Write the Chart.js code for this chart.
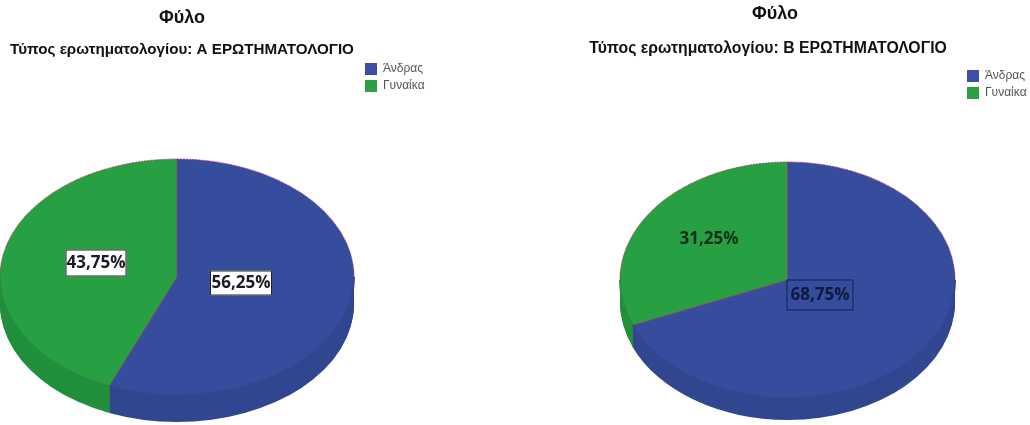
<!DOCTYPE html>
<html>
<head>
<meta charset="utf-8">
<script src="https://cdn.jsdelivr.net/npm/chart.js@4"></script>
<style>
  html, body { margin: 0; padding: 0; background: #fff; }
  #wrap { position: relative; width: 1030px; height: 425px; overflow: hidden; }
  canvas { position: absolute; top: 0; filter: blur(0.5px); }
  #left { left: 0; }
  #right { left: 515px; }
</style>
</head>
<body>
<div id="wrap">
  <canvas id="left" width="515" height="425"></canvas>
  <canvas id="right" width="515" height="425"></canvas>
</div>
<script>
const categories = ["Άνδρας", "Γυναίκα"];
const valuesA = [56.25, 43.75];
const valuesB = [68.75, 31.25];
const chartTitle = "Φύλο";
const subtitleA = "Τύπος ερωτηματολογίου: Α ΕΡΩΤΗΜΑΤΟΛΟΓΙΟ";
const subtitleB = "Τύπος ερωτηματολογίου: Β ΕΡΩΤΗΜΑΤΟΛΟΓΙΟ";

const topColors = ["#364d9d", "#27a044"];
const sideColors = ["#314790", "#22903d"];
const legendColors = ["#3f4fa6", "#2ea044"];
const edgeColor = "#a8345a";

function formatValue(v) {
  return v.toFixed(2).replace(".", ",") + "%";
}

// squashes the round pie into the tilted disc and adds the side wall
const tiltPlugin = {
  id: "tilt",
  afterLayout(chart, args, opts) {
    const title = chart.titleBlock;
    const sub = chart.boxes.find(b => b !== title && b.constructor === title.constructor);
    title.left = opts.titleX - 100;
    title.right = opts.titleX + 100;
    title.top = opts.titleY - title.height / 2;
    title.bottom = title.top + title.height;
    sub.left = opts.subX - 220;
    sub.right = opts.subX + 220;
    sub.top = opts.subY - sub.height / 2;
    sub.bottom = sub.top + sub.height;
    chart.legend.left = opts.legendX;
    chart.legend.top = opts.legendY;
  },
  beforeDatasetsDraw(chart, args, opts) {
    const ctx = chart.ctx;
    const arcs = chart.getDatasetMeta(0).data;
    const cx = arcs[0].x, cy = arcs[0].y, r = arcs[0].outerRadius;
    const ratio = opts.ry / r;
    for (let d = opts.depth; d > 0; d--) {
      arcs.forEach((arc, i) => {
        ctx.save();
        ctx.translate(opts.cx, opts.cy + d);
        ctx.scale(1, ratio);
        ctx.beginPath();
        ctx.moveTo(0, 0);
        ctx.arc(0, 0, r, arc.startAngle, arc.endAngle);
        ctx.closePath();
        ctx.fillStyle = sideColors[i];
        ctx.fill();
        ctx.restore();
      });
    }
    ctx.save();
    ctx.translate(opts.cx, opts.cy);
    ctx.scale(1, ratio);
    ctx.translate(-cx, -cy);
  },
  afterDatasetsDraw(chart, args, opts) {
    const ctx = chart.ctx;
    // the front rim has no red edge in the reference
    chart.getDatasetMeta(0).data.forEach((arc, i) => {
      const from = Math.max(arc.startAngle, 0);
      const to = Math.min(arc.endAngle, Math.PI);
      if (to <= from) return;
      ctx.beginPath();
      ctx.arc(arc.x, arc.y, arc.outerRadius, from, to);
      ctx.strokeStyle = sideColors[i];
      ctx.lineWidth = 2;
      ctx.stroke();
    });
    ctx.restore();
    const vals = chart.data.datasets[0].data;
    vals.forEach((v, i) => {
      const lab = opts.labels[i];
      ctx.save();
      ctx.fillStyle = lab.fillColor;
      ctx.fillRect(lab.x - lab.w / 2, lab.y - lab.h / 2, lab.w, lab.h);
      ctx.strokeStyle = lab.strokeColor;
      ctx.lineWidth = 1;
      ctx.strokeRect(lab.x - lab.w / 2 + 0.5, lab.y - lab.h / 2 + 0.5, lab.w - 1, lab.h - 1);
      ctx.font = "700 17px 'Open Sans'";
      ctx.fillStyle = lab.textColor;
      ctx.textAlign = "center";
      ctx.textBaseline = "middle";
      ctx.fillText(formatValue(v), lab.x, lab.y);
      ctx.restore();
    });
  }
};

function makePie(id, values, subtitle, geo) {
  const legendLabels = Chart.overrides.doughnut.plugins.legend.labels.generateLabels;
  return new Chart(document.getElementById(id).getContext("2d"), {
    type: "pie",
    data: {
      labels: categories,
      datasets: [{
        data: values,
        backgroundColor: topColors,
        borderColor: edgeColor,
        borderWidth: 1,
        borderDash: [2, 1],
        clip: false
      }]
    },
    options: {
      responsive: false,
      animation: false,
      radius: geo.rx,
      events: [],
      plugins: {
        tooltip: { enabled: false },
        title: {
          display: true,
          text: chartTitle,
          color: "#111",
          padding: 0,
          font: { family: "'Liberation Sans'", size: 18, weight: "bold" }
        },
        subtitle: {
          display: true,
          text: subtitle,
          color: "#111",
          padding: 0,
          font: { family: "'Liberation Sans'", size: geo.subSize, weight: "bold" }
        },
        legend: {
          position: "right",
          align: "start",
          labels: {
            boxWidth: 12,
            boxHeight: 12,
            padding: 5,
            color: "#555",
            font: { family: "'Liberation Sans'", size: 12 },
            generateLabels(chart) {
              return legendLabels(chart).map((item, i) => {
                item.fillStyle = legendColors[i];
                item.lineWidth = 0;
                return item;
              });
            }
          }
        },
        tilt: geo
      }
    },
    plugins: [tiltPlugin]
  });
}

makePie("left", valuesA, subtitleA, {
  cx: 177, cy: 277, rx: 177, ry: 118, depth: 27, subSize: 15.2,
  titleX: 182, titleY: 18, subX: 182, subY: 49.5,
  legendX: 360, legendY: 58,
  labels: [
    { x: 241, y: 283, w: 62, h: 25, fillColor: "#fff", strokeColor: "#222", textColor: "#1a1a2a" },
    { x: 96, y: 263, w: 61, h: 27, fillColor: "#fff", strokeColor: "#222", textColor: "#1a1a2a" }
  ]
});

makePie("right", valuesB, subtitleB, {
  cx: 272.5, cy: 280, rx: 167.5, ry: 118, depth: 22, subSize: 15.8,
  titleX: 260, titleY: 14, subX: 253, subY: 48.5,
  legendX: 447, legendY: 65,
  labels: [
    { x: 305, y: 295, w: 67, h: 31, fillColor: "transparent", strokeColor: "#14204f", textColor: "#10183f" },
    { x: 194, y: 239, w: 60, h: 24, fillColor: "transparent", strokeColor: "transparent", textColor: "#0f2f1a" }
  ]
});
</script>
</body>
</html>
